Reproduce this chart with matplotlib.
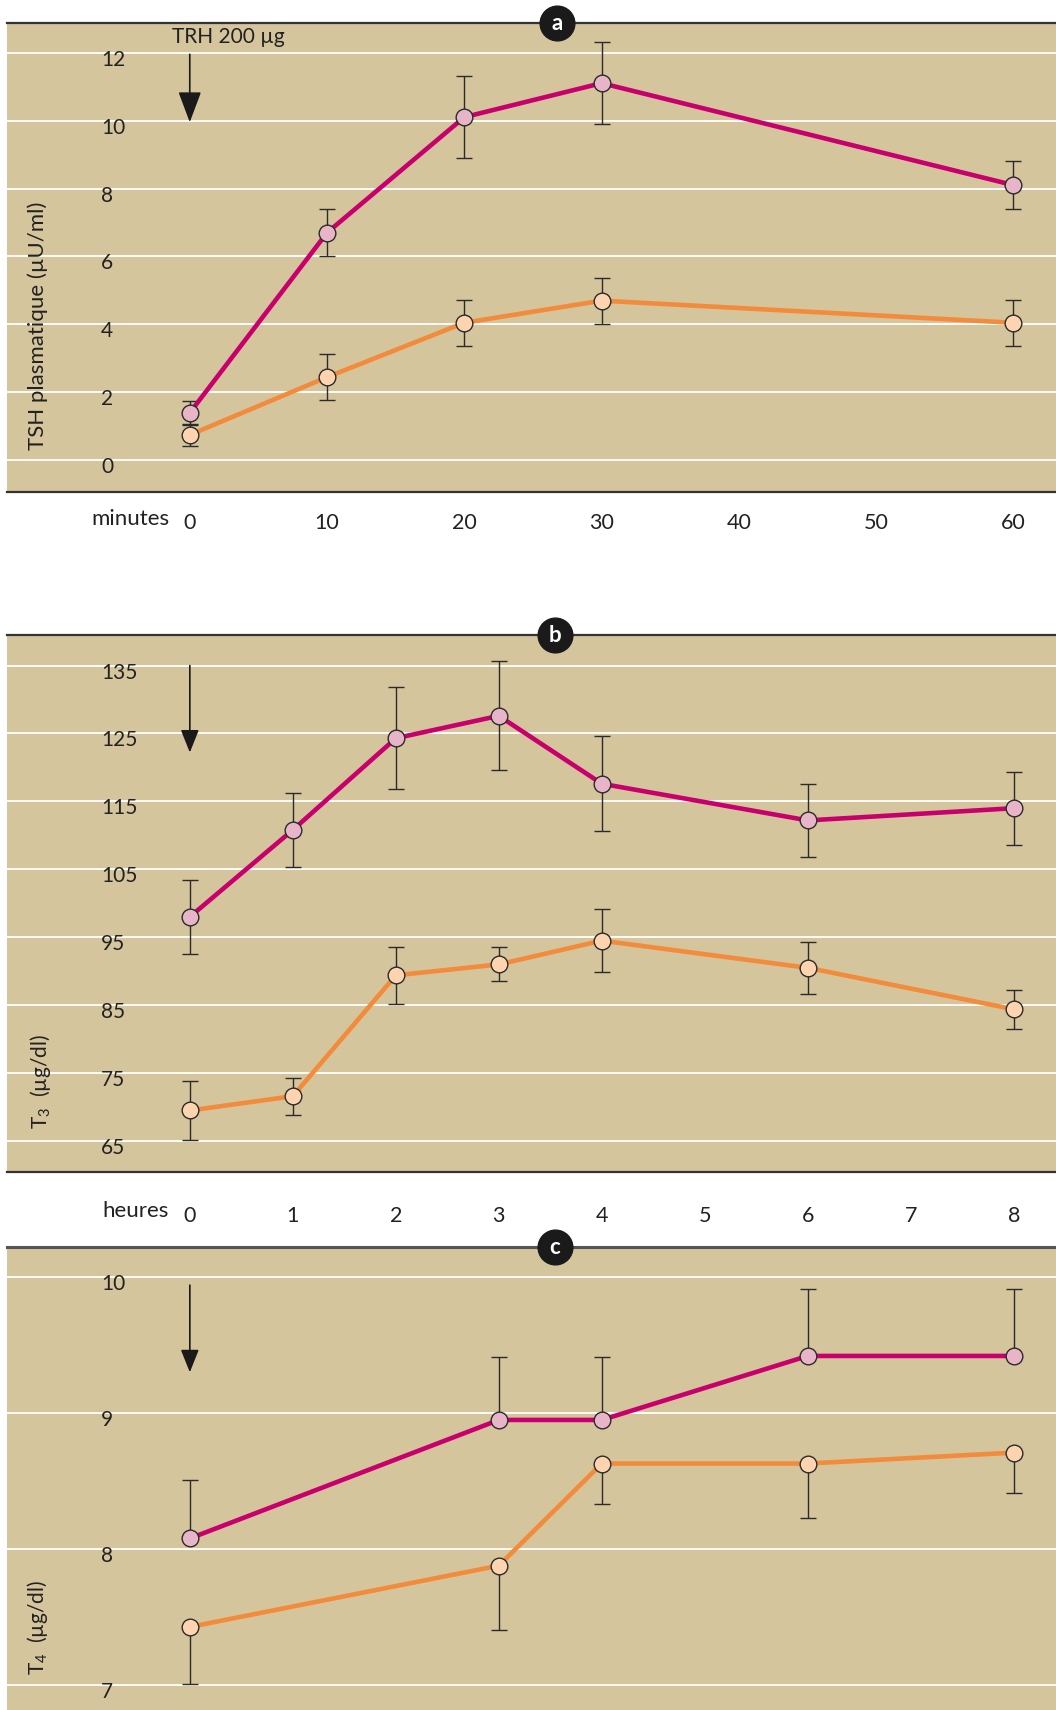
import matplotlib
matplotlib.use("Agg")
import matplotlib.pyplot as plt
import matplotlib.transforms as mtransforms

plt.rcParams['font.family'] = ['Lato', 'DejaVu Sans']
plt.rcParams['mathtext.default'] = 'regular'

# panel a : TSH after TRH (minutes)
minutes = [0, 10, 20, 30, 60]
tsh_mag = [1.4, 6.7, 10.1, 11.1, 8.1]
tsh_mag_err = [0.35, 0.7, 1.2, 1.2, 0.7]
tsh_or = [0.75, 2.45, 4.05, 4.7, 4.05]
tsh_or_err = [0.33, 0.68, 0.68, 0.68, 0.68]
minute_ticks = [0, 10, 20, 30, 40, 50, 60]
tsh_ticks = [0, 2, 4, 6, 8, 10, 12]

# panel b : T3 (hours)
hours = [0, 1, 2, 3, 4, 6, 8]
t3_mag = [98, 110.8, 124.3, 127.6, 117.6, 112.2, 114]
t3_mag_err = [5.5, 5.5, 7.5, 8, 7, 5.4, 5.4]
t3_or = [69.5, 71.6, 89.4, 91.0, 94.5, 90.5, 84.4]
t3_or_err = [4.3, 2.7, 4.2, 2.5, 4.6, 3.8, 2.9]
hour_ticks = [0, 1, 2, 3, 4, 5, 6, 7, 8]
t3_ticks = [65, 75, 85, 95, 105, 115, 125, 135]

# panel c : T4 (hours), one-sided error bars
hours_c = [0, 3, 4, 6, 8]
t4_mag = [8.08, 8.95, 8.95, 9.42, 9.42]
t4_mag_up = [0.43, 0.46, 0.46, 0.49, 0.49]
t4_or = [7.43, 7.88, 8.63, 8.63, 8.71]
t4_or_down = [0.42, 0.47, 0.30, 0.40, 0.30]
t4_ticks = [7, 8, 9, 10]

BG = '#d5c59d'
MAG = '#c8006e'
MAG_FILL = '#e8b4c8'
ORA = '#f28b3c'
ORA_FILL = '#fdd4af'
EDGE = '#2b2b2b'

W, H = 1056, 1710
fig = plt.figure(figsize=(W / 100, H / 100), dpi=100)


def px_axes(top, bottom):
    return fig.add_axes([6.5 / W, 1 - bottom / H, 1 - 6.5 / W, (bottom - top) / H])


def style(ax, ticks, show_bottom=True):
    ax.set_facecolor(BG)
    for s in ['left', 'right']:
        ax.spines[s].set_visible(False)
    ax.spines['top'].set_color('#333333')
    ax.spines['top'].set_linewidth(1.6)
    ax.spines['bottom'].set_color('#333333')
    ax.spines['bottom'].set_linewidth(1.6)
    ax.spines['bottom'].set_visible(show_bottom)
    ax.set_yticks([])
    for t in ticks:
        ax.axhline(t, color='white', lw=1.3, zorder=1)
    trans = mtransforms.blended_transform_factory(ax.transAxes, ax.transData)
    off = mtransforms.offset_copy(trans, fig=fig, y=-7, units='dots')
    for t in ticks:
        ax.text(0.09, t, str(t), transform=off, ha='left', va='center',
                fontsize=15, color='#222222', zorder=2)


def series(ax, x, y, yerr, color, fill):
    ax.errorbar(x, y, yerr=yerr, fmt='none', ecolor=EDGE, elinewidth=1.0,
                capsize=6, capthick=1.0, zorder=3)
    ax.plot(x, y, color=color, lw=3.3, zorder=4, solid_capstyle='round')
    ax.plot(x, y, 'o', ms=12, mfc=fill, mec=EDGE, mew=1.0, zorder=5)


def badge(ax, letter, xfrac):
    ax.plot([xfrac], [1.0], 'o', ms=25, color='#1a1a1a', transform=ax.transAxes,
            clip_on=False, zorder=10)
    ax.text(xfrac, 1.0, letter, transform=ax.transAxes, ha='center', va='center',
            fontsize=16, fontweight='bold', color='white', zorder=11)


def arrow(ax, x, y0, y1, hl, hw, scale):
    ax.annotate('', xy=(x, y1), xytext=(x, y0),
                arrowprops=dict(arrowstyle=f'-|>,head_length={hl},head_width={hw}',
                                color='#1a1a1a', lw=1.2, mutation_scale=scale,
                                shrinkA=0, shrinkB=0), zorder=6)


# ---- panel a
ax_a = px_axes(23, 492)
style(ax_a, tsh_ticks)
ax_a.set_xlim(-13.35, 63.1)
ax_a.set_ylim(-0.93, 12.87)
series(ax_a, minutes, tsh_mag, tsh_mag_err, MAG, MAG_FILL)
series(ax_a, minutes, tsh_or, tsh_or_err, ORA, ORA_FILL)
ax_a.set_xticks(minute_ticks)
ax_a.set_xticklabels([str(m) for m in minute_ticks], fontsize=15.5, color='#222222')
ax_a.tick_params(axis='x', length=0, pad=15)
ax_a.text(0.155, -0.057, 'minutes', transform=ax_a.transAxes, ha='right', va='center',
          fontsize=16, color='#222222')
ax_a.text(0.03, 0.354, 'TSH plasmatique (µU/ml)', transform=ax_a.transAxes,
          rotation=90, ha='center', va='center', fontsize=16, color='#222222')
ax_a.text(-1.3, 12.45, 'TRH 200 µg', ha='left', va='center', fontsize=15, color='#222222')
arrow(ax_a, 0, 11.95, 9.95, 1.2, 0.45, 16)
badge(ax_a, 'a', 0.5245)

# ---- panel b
ax_b = px_axes(635, 1171.6)
style(ax_b, t3_ticks)
ax_b.set_xlim(-1.78, 8.41)
ax_b.set_ylim(60.5, 139.5)
series(ax_b, hours, t3_mag, t3_mag_err, MAG, MAG_FILL)
series(ax_b, hours, t3_or, t3_or_err, ORA, ORA_FILL)
ax_b.set_xticks(hour_ticks)
ax_b.set_xticklabels([str(h) for h in hour_ticks], fontsize=15.5, color='#222222')
ax_b.tick_params(axis='x', length=0, pad=25)
ax_b.text(0.155, -0.073, 'heures', transform=ax_b.transAxes, ha='right', va='center',
          fontsize=16, color='#222222')
ax_b.text(0.032, 0.079, 'T$_3$  (µg/dl)', transform=ax_b.transAxes,
          rotation=90, ha='center', va='bottom', fontsize=15, color='#222222')
arrow(ax_b, 0, 135, 122.2, 1.0, 0.4, 14)
badge(ax_b, 'b', 0.5225)

# ---- panel c
ax_c = px_axes(1247, 1710)
style(ax_c, t4_ticks, show_bottom=False)
ax_c.spines['top'].set_color('#555555')
ax_c.spines['top'].set_linewidth(2.2)
ax_c.set_xlim(-1.78, 8.41)
ax_c.set_ylim(6.82, 10.22)
zeros = [0] * len(hours_c)
series(ax_c, hours_c, t4_mag, [zeros, t4_mag_up], MAG, MAG_FILL)
series(ax_c, hours_c, t4_or, [t4_or_down, zeros], ORA, ORA_FILL)
ax_c.set_xticks([])
ax_c.text(0.03, 0.076, 'T$_4$  (µg/dl)', transform=ax_c.transAxes,
          rotation=90, ha='center', va='bottom', fontsize=15, color='#222222')
arrow(ax_c, 0, 9.94, 9.30, 1.0, 0.4, 14)
badge(ax_c, 'c', 0.5225)

fig.savefig('out.png', dpi=100, facecolor='white')
